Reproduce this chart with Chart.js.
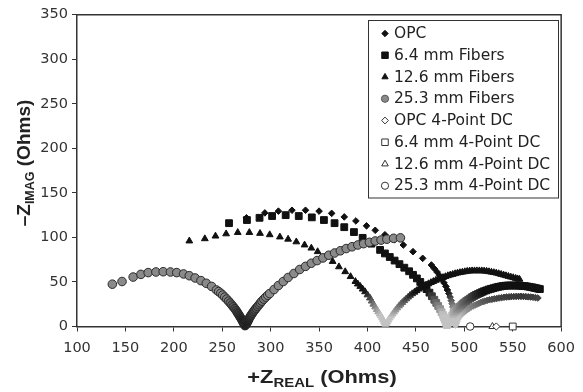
<!DOCTYPE html>
<html><head><meta charset="utf-8">
<script src="https://cdn.jsdelivr.net/npm/chart.js@4/dist/chart.umd.min.js"></script>
<style>html,body{margin:0;padding:0;background:#fff}#wrap{width:583px;height:392px;position:relative}</style>
</head><body><div id="wrap"><canvas id="c" width="583" height="392"></canvas></div>
<script>
// ---- tick values ----
const xTicks = [100,150,200,250,300,350,400,450,500,550,600];
const yTicks = [0,50,100,150,200,250,300,350];

// ---- series labels ----
const seriesNames = ['OPC','6.4 mm Fibers','12.6 mm Fibers','25.3 mm Fibers',
  'OPC 4-Point DC','6.4 mm 4-Point DC','12.6 mm 4-Point DC','25.3 mm 4-Point DC'];

// ---- data: [Zreal, -Zimag] ----
const opc = [[275,122],[294,127.5],[308,129.5],[322,130.5],[336,130.5],[350,129.5],[363,127],[376,123],[388,118.5],
  [399,113],[408,108],[418,103],[428,97.5],[437,91.5],[447,84],[457,76.5],[466,69],[469,65],[472,61],[474.5,57],
  [477,53],[479,49],[481,45],[482.5,41],[484,37],[485.3,33],[486.5,29],[487.3,25.5],[488,22],[488.5,18.5],[489,15],
  [489.5,12],[490,9],[490.3,6.5],[490.6,4],[491,1.5],
  [491.8,3.5],[492.5,6],[493.5,8.5],[494.5,10.5],[496,12.5],[497.5,14],[499,15.5],[500.5,17],[502,18],[503.5,19.5],
  [505,20.5],[507,22],[509,23],[511,24],[513,25],[515,26],[517,27],[519,27.8],[521,28.5],[523.5,29.3],[526,30],
  [528.5,30.5],[531,31],[533.5,31.5],[536,32],[538.5,32.4],[541,32.8],[543.5,33.1],[546,33.3],[548.5,33.5],
  [551,33.6],[553.5,33.7],[556,33.8],[558.5,33.8],[561,33.7],[563.5,33.5],[566,33.3],[568.5,33.1],[571,32.8],
  [573.5,32.4],[576,32]];

const f64 = [[257,116],[275.5,119.5],[288.5,122],[301.5,124],[315.5,125],[329,124],[342.5,122.5],[355,119.5],[366,116],
  [376,111.5],[386,106],[395,99.5],[404,93],[413,86],[418,82],[423,78],[428,74],[433,70],[438,66],[443,62],[447,58],
  [451,54],[454.5,50],[458,46],[461,42],[464,38],[466.5,34],[469,30],[471,26.5],[473,23],[475,19.5],[476.5,16],
  [478,13],[479,10],[480,7.5],[481,5],[481.5,3],[482,1.5],
  [483,4],[484,6],[485,8],[486,10],[487,12],[488.5,14],[489.5,16],[491,17.5],[492.5,19.5],[494,21],[495.5,22.5],
  [497,24],[498.5,25.5],[500,27],[502,28.5],[504,30],[506,31.5],[508,33],[510,34.3],[512,35.5],[514,36.5],
  [516,37.5],[518,38.5],[520,39.5],[522.5,40.5],[525,41.5],[527.5,42.3],[530,43],[532.5,43.8],[535,44.5],
  [537.5,45],[540,45.5],[542.5,45.8],[545,46],[547.5,46],[550,46],[552.5,46],[555,46],[557.5,45.8],[560,45.5],
  [562.5,45.3],[565,45],[567.5,44.5],[570,44],[572,43.5],[574,43],[576,42.5],[578,42]];

const f126 = [[216,96],[232,98.5],[243,101.5],[254,104],[266,105.5],[278,105.5],[289,104.5],[299,103],[309.5,100.5],
  [318,98],[326.5,95],[335,91.5],[342,88],[348.5,84],[357,78.5],[364,73],[370.5,67],[377,61.5],[382.5,56],
  [387.5,50.5],[390,47.7],[392.5,45],[395,42],[397.5,39],[400,35.5],[402.5,32],[404.3,28.5],[406,25],[407.8,22],
  [409.5,19],[411,16.5],[412.5,14],[413.8,11.7],[415,9.5],[416,7.5],[417,5.5],[417.8,4],[418.5,2.5],
  [419.5,3.5],[420.5,5],[421.7,7.2],[423,9.5],[424.5,11.8],[426,14],[427.5,16.3],[429,18.5],[430.7,20.8],
  [432.5,23],[434.2,25],[436,27],[438,29],[440,31],[442,33],[444,35],[446.2,36.8],[448.5,38.5],[450.7,40.2],
  [453,42],[455.5,43.5],[458,45],[460.5,46.5],[463,48],[465.5,49.3],[468,50.5],[470.5,51.8],[473,53],[475.5,54],
  [478,55],[480.5,56],[483,57],[485.5,57.8],[488,58.5],[490.5,59.3],[493,60],[495.5,60.5],[498,61],[500.5,61.5],
  [503,62],[505.5,62.3],[508,62.5],[510.5,62.5],[513,62.5],[515.5,62.5],[518,62.5],[520.5,62.3],[523,62],
  [525.5,61.5],[528,61],[530.5,60.5],[533,60],[535.5,59.3],[538,58.5],[540.5,57.8],[543,57],[545.5,56.3],
  [548,55.5],[550.5,54.8],[553,54],[555,53.5],[557,53]];

const f253 = [[136.5,47.5],[146.5,50.5],[158,55.5],[166,58.5],[173.5,60.5],[181.5,61.2],[189,61.5],[196.5,61.2],
  [203,60.5],[210,59],[216,57],[222,54.5],[228,51.5],[233.5,48.5],[239,45],[244,41],[246.3,39.2],[248.5,37.3],
  [250.5,35.2],[252.5,33],[254.5,30.8],[256.5,28.5],[258.3,26.3],[260,24],[261.5,22],[263,20],[264.3,18],
  [265.5,16],[266.5,14.2],[267.5,12.5],[268.5,10.7],[269.5,9],[270.3,7.5],[271,6],[271.8,4.5],[272.5,3],[273,2],
  [273.5,1],[274.2,1.8],[275,3],[275.7,4.5],[276.5,6],[277.2,7.7],[278,9.5],[279,11.2],[280,13],[281.2,15],
  [282.5,17],[283.7,18.7],[285,20.5],[286.5,22.5],[288,24.5],[289.5,26.5],[291,28.5],[293,30.8],[295,33],[297,35],
  [299,37],[303.5,41.5],[308,46],[313,50.5],[318,55],[324,59.5],[330,64],[336,67.5],[342,71],[348,74],[354,77],
  [360,80],[366,82.5],[372,85],[378,87.5],[384,89.5],[390,91.5],[396,93],[402,94.5],[408,96],[414,97],[420,98],
  [427,99],[434,99.5]];

const opcDC = [[533,0]];
const f64DC = [[550,0]];
const f126DC = [[529,0]];
const f253DC = [[506,0]];

// ---- helpers ----
const pts = a => a.map(p => ({x:p[0], y:p[1]}));
function shade(y){
  const t = Math.max(0, Math.min(1, (y - 12) / (40 - 12)));
  const v = Math.round(195 - t * (195 - 17));
  return `rgb(${v},${v},${v})`;
}
const shadeCtx = c => shade(c.raw ? c.raw.y : 100);
function circleFill(c){
  const y = c.raw ? c.raw.y : 100;
  const t = Math.max(0, Math.min(1, (y - 6) / (34 - 6)));
  const v = Math.round(25 + t * (138 - 25));
  return `rgb(${v},${v},${v})`;
}

function darkSeries(label, data, style, r, order){
  return {label, data: pts(data), pointStyle: style, pointRadius: r, pointHoverRadius: r,
    pointBackgroundColor: shadeCtx, pointBorderColor: shadeCtx, pointBorderWidth: 1, showLine:false, order, clip:false};
}
function dcSeries(label, data, style, r){
  return {label, data: pts(data), pointStyle: style, pointRadius: r, pointHoverRadius: r,
    pointBackgroundColor:'#ffffff', pointBorderColor:'#333', pointBorderWidth:1, showLine:false, order:0, clip:false};
}

const legendStyles = [
  {style:'rectRot', r:3.2, fill:'#111', stroke:'#111'},
  {style:'rect', r:4.6, fill:'#111', stroke:'#111'},
  {style:'triangle', r:3.6, fill:'#111', stroke:'#111'},
  {style:'circle', r:3.6, fill:'#8a8a8a', stroke:'#555'},
  {style:'rectRot', r:3.4, fill:'#fff', stroke:'#333'},
  {style:'rect', r:4.6, fill:'#fff', stroke:'#333'},
  {style:'triangle', r:3.8, fill:'#fff', stroke:'#333'},
  {style:'circle', r:3.6, fill:'#fff', stroke:'#333'}
];

function shapePath(ctx, style, x, y, r){
  ctx.beginPath();
  if (style === 'circle') { ctx.arc(x, y, r, 0, Math.PI*2); }
  else if (style === 'rect') { const s = r*Math.SQRT1_2; ctx.rect(x-s, y-s, 2*s, 2*s); }
  else if (style === 'rectRot') { ctx.moveTo(x, y-r); ctx.lineTo(x+r, y); ctx.lineTo(x, y+r); ctx.lineTo(x-r, y); ctx.closePath(); }
  else if (style === 'triangle') {
    ctx.moveTo(x, y - r); ctx.lineTo(x + r*0.866, y + r*0.5); ctx.lineTo(x - r*0.866, y + r*0.5); ctx.closePath();
  }
}

function drawRich(ctx, parts){
  let W = 0;
  parts.forEach(p => { ctx.font = p.font; p.w = ctx.measureText(p.t).width; W += p.w; });
  let x = -W/2;
  parts.forEach(p => { ctx.font = p.font; ctx.fillText(p.t, x, p.dy || 0); x += p.w; });
}

const decor = {
  id:'decor',
  afterDraw(chart){
    const ctx = chart.ctx, a = chart.chartArea;
    ctx.save();
    ctx.strokeStyle = '#333'; ctx.lineWidth = 1.5;
    ctx.beginPath();
    ctx.moveTo(a.left, a.top); ctx.lineTo(a.right, a.top); ctx.lineTo(a.right, a.bottom);
    ctx.stroke();

    ctx.fillStyle = '#fff'; ctx.strokeStyle = '#333'; ctx.lineWidth = 1;
    ctx.fillRect(368.5, 20.5, 190, 177.5); ctx.strokeRect(368.5, 20.5, 190, 177.5);
    seriesNames.forEach((n, i) => {
      const y = 33.5 + i*21.75;
      const st = legendStyles[i];
      shapePath(ctx, st.style, 385, y, st.r);
      ctx.fillStyle = st.fill; ctx.fill();
      ctx.strokeStyle = st.stroke; ctx.lineWidth = 1; ctx.stroke();
      ctx.fillStyle = '#222'; ctx.font = '15.5px "DejaVu Sans"'; ctx.textBaseline = 'middle'; ctx.textAlign = 'left';
      ctx.fillText(n, 394, y + 0.5);
    });

    ctx.fillStyle = '#222'; ctx.textBaseline = 'alphabetic'; ctx.textAlign = 'left';
    ctx.save();
    ctx.translate(322, 383); ctx.scale(1.15, 1);
    drawRich(ctx, [
      {t:'+Z', font:'bold 19px "Liberation Sans"'},
      {t:'REAL', font:'bold 13px "Liberation Sans"', dy:4},
      {t:' (Ohms)', font:'bold 19px "Liberation Sans"'}
    ]);
    ctx.restore();
    ctx.save();
    ctx.translate(30, 163); ctx.rotate(-Math.PI/2);
    drawRich(ctx, [
      {t:'\u2013Z', font:'bold 19px "Liberation Sans"'},
      {t:'IMAG', font:'bold 12.5px "Liberation Sans"', dy:3.5},
      {t:' (Ohms)', font:'bold 19px "Liberation Sans"'}
    ]);
    ctx.restore();
    ctx.restore();
  }
};

const tickFont = {family:'DejaVu Sans', size:14.5};
new Chart(document.getElementById('c'), {
  type:'scatter',
  data:{ datasets:[
    darkSeries(seriesNames[0], opc, 'rectRot', 3.3, 3),
    darkSeries(seriesNames[1], f64, 'rect', 4.8, 2),
    darkSeries(seriesNames[2], f126, 'triangle', 3.9, 1),
    {label: seriesNames[3], data: pts(f253), pointStyle:'circle', pointRadius:4.3, pointHoverRadius:4.3,
      pointBackgroundColor: circleFill, pointBorderColor:'#2a2a2a', pointBorderWidth:1, showLine:false, order:0, clip:false},
    dcSeries(seriesNames[4], opcDC, 'rectRot', 3.6),
    dcSeries(seriesNames[5], f64DC, 'rect', 4.8),
    dcSeries(seriesNames[6], f126DC, 'triangle', 4),
    dcSeries(seriesNames[7], f253DC, 'circle', 3.8)
  ]},
  options:{
    responsive:false, animation:false, devicePixelRatio:1,
    layout:{padding:{top:14.7, right:16.3, left:0, bottom:0}},
    plugins:{legend:{display:false}, tooltip:{enabled:false}},
    scales:{
      x:{type:'linear', min:100, max:600,
        afterBuildTicks: s => { s.ticks = xTicks.map(v => ({value:v})); },
        afterFit: s => { s.height = 65.5; },
        ticks:{font:tickFont, color:'#333', padding:8, maxRotation:0, autoSkip:false},
        grid:{drawOnChartArea:false, drawTicks:true, tickLength:5, color:'#333', lineWidth:1},
        border:{display:true, color:'#333', width:1.5}},
      y:{type:'linear', min:0, max:350,
        afterBuildTicks: s => { s.ticks = yTicks.map(v => ({value:v})); },
        afterFit: s => { s.width = 77; },
        ticks:{font:tickFont, color:'#333', padding:4, autoSkip:false},
        grid:{drawOnChartArea:false, drawTicks:true, tickLength:5, color:'#333', lineWidth:1},
        border:{display:true, color:'#333', width:1.5}}
    }
  },
  plugins:[decor]
});
</script>
</body></html>
